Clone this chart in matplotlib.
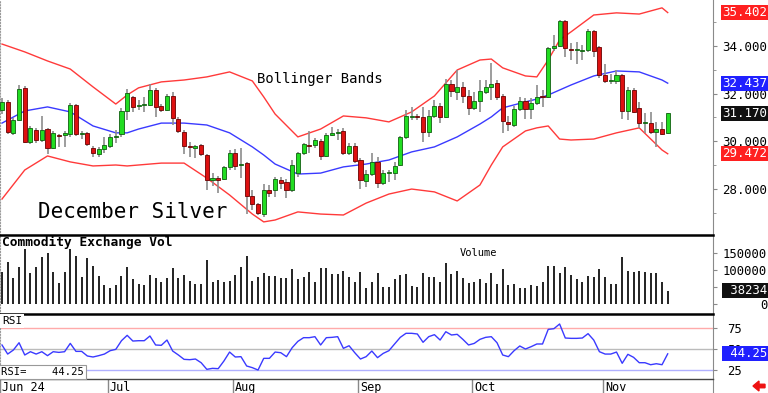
import matplotlib
matplotlib.use("Agg")
import matplotlib.pyplot as plt
import numpy as np
from matplotlib.patches import FancyArrow

plt.rcParams['font.family'] = ['DejaVu Sans Mono']

# ---------------- data (daily, Jun 3 .. Nov 18, 2024) ----------------
opens = [31.31,31.65,30.35,30.89,32.24,29.97,30.47,30.05,30.51,29.72,
         30.26,30.26,30.30,31.52,30.30,30.35,29.72,29.46,29.67,29.80,
         30.18,30.30,31.27,31.86,31.48,31.52,31.52,32.15,31.48,31.31,
         31.90,30.93,30.39,29.80,29.72,29.84,29.42,28.37,28.45,28.41,
         28.92,29.51,29.00,29.08,27.70,27.36,26.94,27.95,27.95,28.37,
         28.29,27.95,28.66,29.51,29.84,29.84,30.01,29.38,30.26,30.35,
         30.43,29.51,29.80,29.21,28.33,28.62,29.13,28.24,28.66,28.66,
         29.00,30.18,31.02,31.06,31.02,30.39,31.06,31.48,31.02,32.40,
         32.07,32.28,31.90,31.40,31.69,32.07,32.28,32.45,31.90,30.81,
         30.68,31.35,31.69,31.35,31.61,31.90,31.86,33.92,34.00,35.05,
         33.87,33.83,33.79,33.83,34.63,33.96,32.78,32.53,32.53,32.78,
         31.27,32.15,31.40,30.77,30.77,30.39,30.51,30.35]
highs = [31.82,31.73,30.98,32.36,32.32,30.64,30.56,31.06,30.56,30.43,
         30.30,30.43,31.61,31.56,30.43,30.39,29.80,29.76,30.18,30.30,
         30.47,31.40,32.19,31.90,31.73,31.86,32.40,32.24,31.56,31.98,
         32.07,31.02,30.47,29.97,29.84,29.88,29.46,28.66,28.54,28.96,
         29.63,29.67,29.72,29.13,27.95,27.40,28.20,28.16,28.50,28.50,
         28.41,29.21,29.55,29.93,30.43,30.14,30.09,30.35,30.60,30.51,
         30.56,29.93,29.93,29.29,28.79,29.51,29.34,28.79,28.79,29.13,
         30.22,31.31,31.44,31.14,31.44,31.31,31.73,31.61,32.61,32.57,
         32.99,32.49,32.15,32.07,32.57,32.57,33.29,32.57,31.98,31.06,
         31.48,31.86,31.82,31.82,32.36,32.15,33.96,34.46,35.09,35.09,
         34.13,34.17,34.04,34.72,34.67,34.00,33.24,32.82,32.99,32.82,
         32.28,32.24,31.65,31.19,31.23,30.81,30.81,31.19]
lows = [31.14,30.30,30.26,30.85,29.93,29.88,29.93,29.97,29.46,29.67,
        29.76,29.76,30.18,30.22,30.09,29.80,29.34,29.34,29.51,29.72,
        29.93,30.18,30.89,31.23,31.31,31.23,31.48,31.02,31.23,31.27,
        30.68,30.35,29.46,29.34,29.29,29.38,27.95,28.12,27.82,28.37,
        28.79,28.79,28.45,26.94,27.11,26.90,26.82,27.66,27.66,27.99,
        27.61,27.87,28.50,29.42,29.51,29.72,29.21,29.34,30.22,30.05,
        29.42,29.42,29.08,27.99,28.08,28.54,28.03,28.16,28.29,28.37,
        28.96,30.09,30.89,30.89,29.97,30.18,30.98,30.77,30.98,31.86,
        31.73,31.61,31.10,31.31,31.23,31.98,31.73,31.73,30.35,30.43,
        30.60,31.27,30.93,30.93,31.52,31.44,31.82,33.79,33.96,33.54,
        33.41,33.24,33.41,33.75,33.54,32.66,32.45,32.40,32.40,30.93,
        30.89,31.19,30.56,30.35,30.30,29.76,30.26,30.30]
closes = [31.65,30.39,30.89,32.19,29.97,30.56,30.05,30.47,29.72,30.35,
          30.22,30.35,31.52,30.30,30.35,29.88,29.51,29.67,29.84,30.18,
          30.22,31.27,32.03,31.44,31.52,31.56,32.15,31.44,31.31,31.90,
          30.98,30.43,29.80,29.76,29.80,29.46,28.37,28.45,28.37,28.92,
          29.51,28.96,29.04,27.70,27.36,26.98,27.95,27.82,28.41,28.24,
          27.95,29.00,29.51,29.88,29.80,30.05,29.38,30.26,30.35,30.39,
          29.51,29.80,29.17,28.37,28.62,29.13,28.24,28.66,28.70,28.96,
          30.18,31.06,31.06,31.02,30.39,31.06,31.48,31.02,32.40,32.11,
          32.28,31.90,31.40,31.69,32.11,32.28,32.40,31.86,30.85,30.72,
          31.35,31.69,31.35,31.61,31.86,31.86,33.92,34.00,35.05,33.92,
          33.83,33.87,33.83,34.63,33.79,32.78,32.53,32.57,32.78,31.27,
          32.15,31.23,30.77,30.81,30.39,30.51,30.30,31.17]

band_idx = [0,4,8,12,16,20,22,24,28,32,36,40,44,46,48,52,56,60,64,68,72,76,
            80,84,86,88,92,94,96,98,100,104,108,112,116,117]
upper_band = [34.08,33.75,33.37,33.03,32.28,31.56,31.94,32.24,32.49,32.57,32.70,32.91,
              32.53,31.86,31.14,30.18,30.51,31.06,30.98,30.81,31.23,31.90,32.99,33.41,
              33.45,33.08,32.74,32.70,33.41,34.25,34.59,35.30,35.39,35.34,35.60,35.402]
mid_band = [30.76,31.27,31.44,31.23,30.64,30.35,30.35,30.51,30.76,30.76,30.68,30.35,
            29.76,29.42,29.04,28.62,28.66,28.92,29.04,29.21,29.55,29.76,30.18,30.72,
            31.02,31.40,31.65,31.77,31.94,32.15,32.36,32.74,32.95,32.91,32.57,32.437]
lower_band = [27.57,28.79,29.38,29.13,28.96,29.00,28.96,29.00,29.08,29.08,28.45,27.74,
              26.94,26.61,26.69,27.03,26.94,26.90,27.40,27.78,27.99,27.87,27.49,28.16,
              29.00,29.76,30.43,30.56,30.64,30.09,30.05,30.09,30.35,30.56,29.63,29.472]

volume = [94100,123200,76600,106900,159300,89400,106900,137800,147700,92300,
          62000,92300,159300,139800,79500,133100,110700,81600,55300,47500,
          55300,81600,108700,72800,58300,54500,84500,74900,63200,74900,
          104000,74900,84500,67000,58300,58300,128200,65000,69900,63200,
          67900,84500,108700,139800,67900,77800,89400,81600,81600,76600,
          74900,101100,72800,79500,94100,65000,104000,104000,87400,87400,
          97000,79500,63200,94100,47500,65000,89400,50400,48600,71900,
          84500,87400,52400,50400,89400,77800,77800,63200,118500,87400,
          96100,76600,62000,65000,71900,62000,89400,58300,101100,55300,
          58300,45700,45700,55300,52400,65000,110700,110700,91200,106900,
          84500,71900,65000,81600,79500,101100,77800,58300,58300,137800,
          97000,94100,96100,94100,91200,89400,63200,38234]

rsi = [54.8,44.0,48.8,57.5,42.9,46.8,44.0,46.8,42.1,46.8,
       46.0,46.8,56.7,47.2,47.2,41.7,40.5,42.1,44.0,48.0,
       49.6,59.9,66.3,59.5,59.9,59.9,65.5,54.8,54.4,60.7,
       47.6,42.9,37.7,37.3,38.1,33.7,25.8,27.0,26.6,35.7,
       46.4,40.5,40.9,29.8,27.8,25.0,38.9,38.9,46.4,45.6,
       40.9,51.6,59.1,63.5,63.5,64.7,54.8,63.5,63.9,64.7,
       50.8,53.9,45.6,38.1,40.9,47.6,39.7,44.8,48.0,56.0,
       63.9,68.7,68.7,67.9,58.0,64.7,67.1,60.7,70.6,66.7,
       67.5,61.5,54.8,56.7,61.5,63.9,64.7,57.5,42.9,40.9,
       48.0,53.6,50.0,52.8,56.0,56.0,73.4,74.2,79.8,63.1,
       62.7,62.7,63.1,68.3,60.7,46.8,44.0,44.0,46.4,33.0,
       43.7,40.1,33.7,33.7,31.3,32.5,31.3,44.25]

month_labels = ["Jun 24", "Jul", "Aug", "Sep", "Oct", "Nov"]
month_idx = [0, 19, 41, 63, 83, 106]

price_ticks = [28, 30, 32, 34]
vol_ticks = [0, 50000, 100000, 150000]
rsi_ticks = [25, 50, 75]

last_labels = [("35.402", 35.402, "#ff2020"), ("32.437", 32.437, "#2020ff"),
               ("31.170", 31.170, "#101010"), ("29.472", 29.472, "#ff2020")]

# ---------------- layout ----------------
W, H = 768, 393
fig = plt.figure(figsize=(W / 100, H / 100), dpi=100)


def rect(x0, y0, x1, y1):
    return [x0 / W, 1 - y1 / H, (x1 - x0) / W, (y1 - y0) / H]


def ftext(px, py, s, **kw):
    return fig.text(px / W, 1 - py / H, s, **kw)


ax = fig.add_axes(rect(0, 0, 713, 235))
axv = fig.add_axes(rect(0, 235, 713, 314))
axr = fig.add_axes(rect(0, 314, 713, 379))
axd = fig.add_axes(rect(0, 379, 713, 393))

XL = (-0.35, 124.96)
x = np.arange(len(opens))
o = np.array(opens); c = np.array(closes)
hi = np.array(highs); lo = np.array(lows)

for a in (ax, axv, axr, axd):
    a.set_xlim(*XL)
    a.set_xticks([])
    for s in ("top", "bottom", "left", "right"):
        a.spines[s].set_visible(False)
    a.spines["right"].set_visible(True)
    a.spines["right"].set_color("#8a8a8a")
    a.spines["left"].set_visible(True)
    a.spines["left"].set_linestyle(":")
    a.spines["left"].set_color("#9a9a9a")

# ---------------- price panel ----------------
ax.set_ylim(26.06, 35.93)
up = c >= o
body_h = c - o
body_h = np.where(np.abs(body_h) < 0.03, np.where(up, 0.03, -0.03), body_h)
face = np.where(up, "#22dd22", "#dd1111")
edge = np.where(up, "#0f5f0f", "#6a0000")
ax.vlines(x, lo, hi, color="#8c8c8c", lw=1.2, zorder=2)
ax.bar(x, body_h, bottom=o, width=0.72, color=face, edgecolor=edge,
       linewidth=0.6, zorder=3)
ax.plot(band_idx, upper_band, color="#ff3a3a", lw=1.0, zorder=1.5)
ax.plot(band_idx, lower_band, color="#ff3a3a", lw=1.0, zorder=1.5)
ax.plot(band_idx, mid_band, color="#3a3aff", lw=1.0, zorder=1.5)

ax.yaxis.tick_right()
ax.set_yticks(price_ticks)
ax.set_yticklabels(["%.3f" % t for t in price_ticks])
ax.set_yticks([27, 29, 31, 33, 35], minor=True)
ax.tick_params(axis="y", which="major", direction="out", length=3, pad=3.5,
               labelsize=9, color="#8a8a8a")
ax.tick_params(axis="y", which="minor", direction="out", length=2, color="#8a8a8a")

for txt, val, col in last_labels:
    ax.text(767 / 713, val, txt, transform=ax.get_yaxis_transform(),
            ha="right", va="center", color="white", fontsize=9,
            bbox=dict(boxstyle="square,pad=0.08", fc=col, ec="none"),
            clip_on=False, zorder=6)

ftext(38, 212, "December Silver", fontsize=15, va="center", ha="left")
ftext(257, 79, "Bollinger Bands", fontsize=10, va="center", ha="left")

# ---------------- volume panel ----------------
axv.set_ylim(-29100, 201000)
axv.vlines(x, 0, volume, color="#111111", lw=1.3)
axv.spines["top"].set_visible(True)
axv.spines["top"].set_color("black")
axv.spines["top"].set_linewidth(1.8)
axv.yaxis.tick_right()
axv.set_yticks(vol_ticks)
axv.set_yticklabels([str(v) for v in vol_ticks])
axv.tick_params(axis="y", direction="out", length=3, pad=36, labelsize=8.8,
                color="#8a8a8a")
for lbl in axv.get_yticklabels():
    lbl.set_ha("right")
axv.text(767 / 713, volume[-1], " " + str(volume[-1]),
         transform=axv.get_yaxis_transform(), ha="right", va="center",
         color="white", fontsize=8.8,
         bbox=dict(boxstyle="square,pad=0.08", fc="#101010", ec="none"),
         clip_on=False, zorder=6)
ftext(2, 242, "Commodity Exchange Vol", fontsize=9.3, fontweight="bold",
      va="center", ha="left")
ftext(460, 253, "Volume", fontsize=7.5, va="center", ha="left")

# ---------------- RSI panel ----------------
axr.set_ylim(14.3, 91.7)
axr.axhline(75, color="#ffaaaa", lw=1.0, zorder=1)
axr.axhline(50, color="#bbbbbb", lw=1.0, zorder=1)
axr.axhline(25, color="#b0b0ff", lw=1.0, zorder=1)
axr.plot(x, rsi, color="#3a3aff", lw=1.0, zorder=2)
axr.spines["top"].set_visible(True)
axr.spines["top"].set_color("black")
axr.spines["top"].set_linewidth(1.8)
axr.yaxis.tick_right()
axr.set_yticks(rsi_ticks)
axr.set_yticklabels([str(v) for v in rsi_ticks])
axr.tick_params(axis="y", direction="out", length=3, pad=7, labelsize=8.8,
                color="#8a8a8a")
axr.text(767 / 713, rsi[-1], " %.2f" % rsi[-1],
         transform=axr.get_yaxis_transform(), ha="right", va="center",
         color="white", fontsize=8.8,
         bbox=dict(boxstyle="square,pad=0.08", fc="#2020ff", ec="none"),
         clip_on=False, zorder=6)
ftext(2, 321, "RSI", fontsize=8, va="center", ha="left",
      bbox=dict(boxstyle="square,pad=0.2", fc="white", ec="none"))
ftext(1, 372, "RSI=    %.2f" % rsi[-1], fontsize=7.6, va="center", ha="left",
      bbox=dict(boxstyle="square,pad=0.2", fc="white", ec="#999999", lw=0.8))

# ---------------- date axis ----------------
axd.set_ylim(0, 1)
axd.set_yticks([])
axd.spines["left"].set_visible(False)
axd.spines["top"].set_visible(True)
axd.spines["top"].set_color("#444444")
axd.spines["top"].set_linewidth(1.0)
for m, lab in zip(month_idx, month_labels):
    axd.vlines(m - 0.35, 0, 1, color="#888888", lw=1.0)
    axd.text(m - 0.05, 0.42, lab, fontsize=8.5, va="center", ha="left")

fig.patches.append(FancyArrow(765 / W, 1 - 386 / H, -12 / W, 0,
                              width=3.5 / H, head_width=10 / H,
                              head_length=6 / W, length_includes_head=True,
                              color="#ee1111", transform=fig.transFigure,
                              figure=fig))

fig.savefig("out.png", dpi=100)
